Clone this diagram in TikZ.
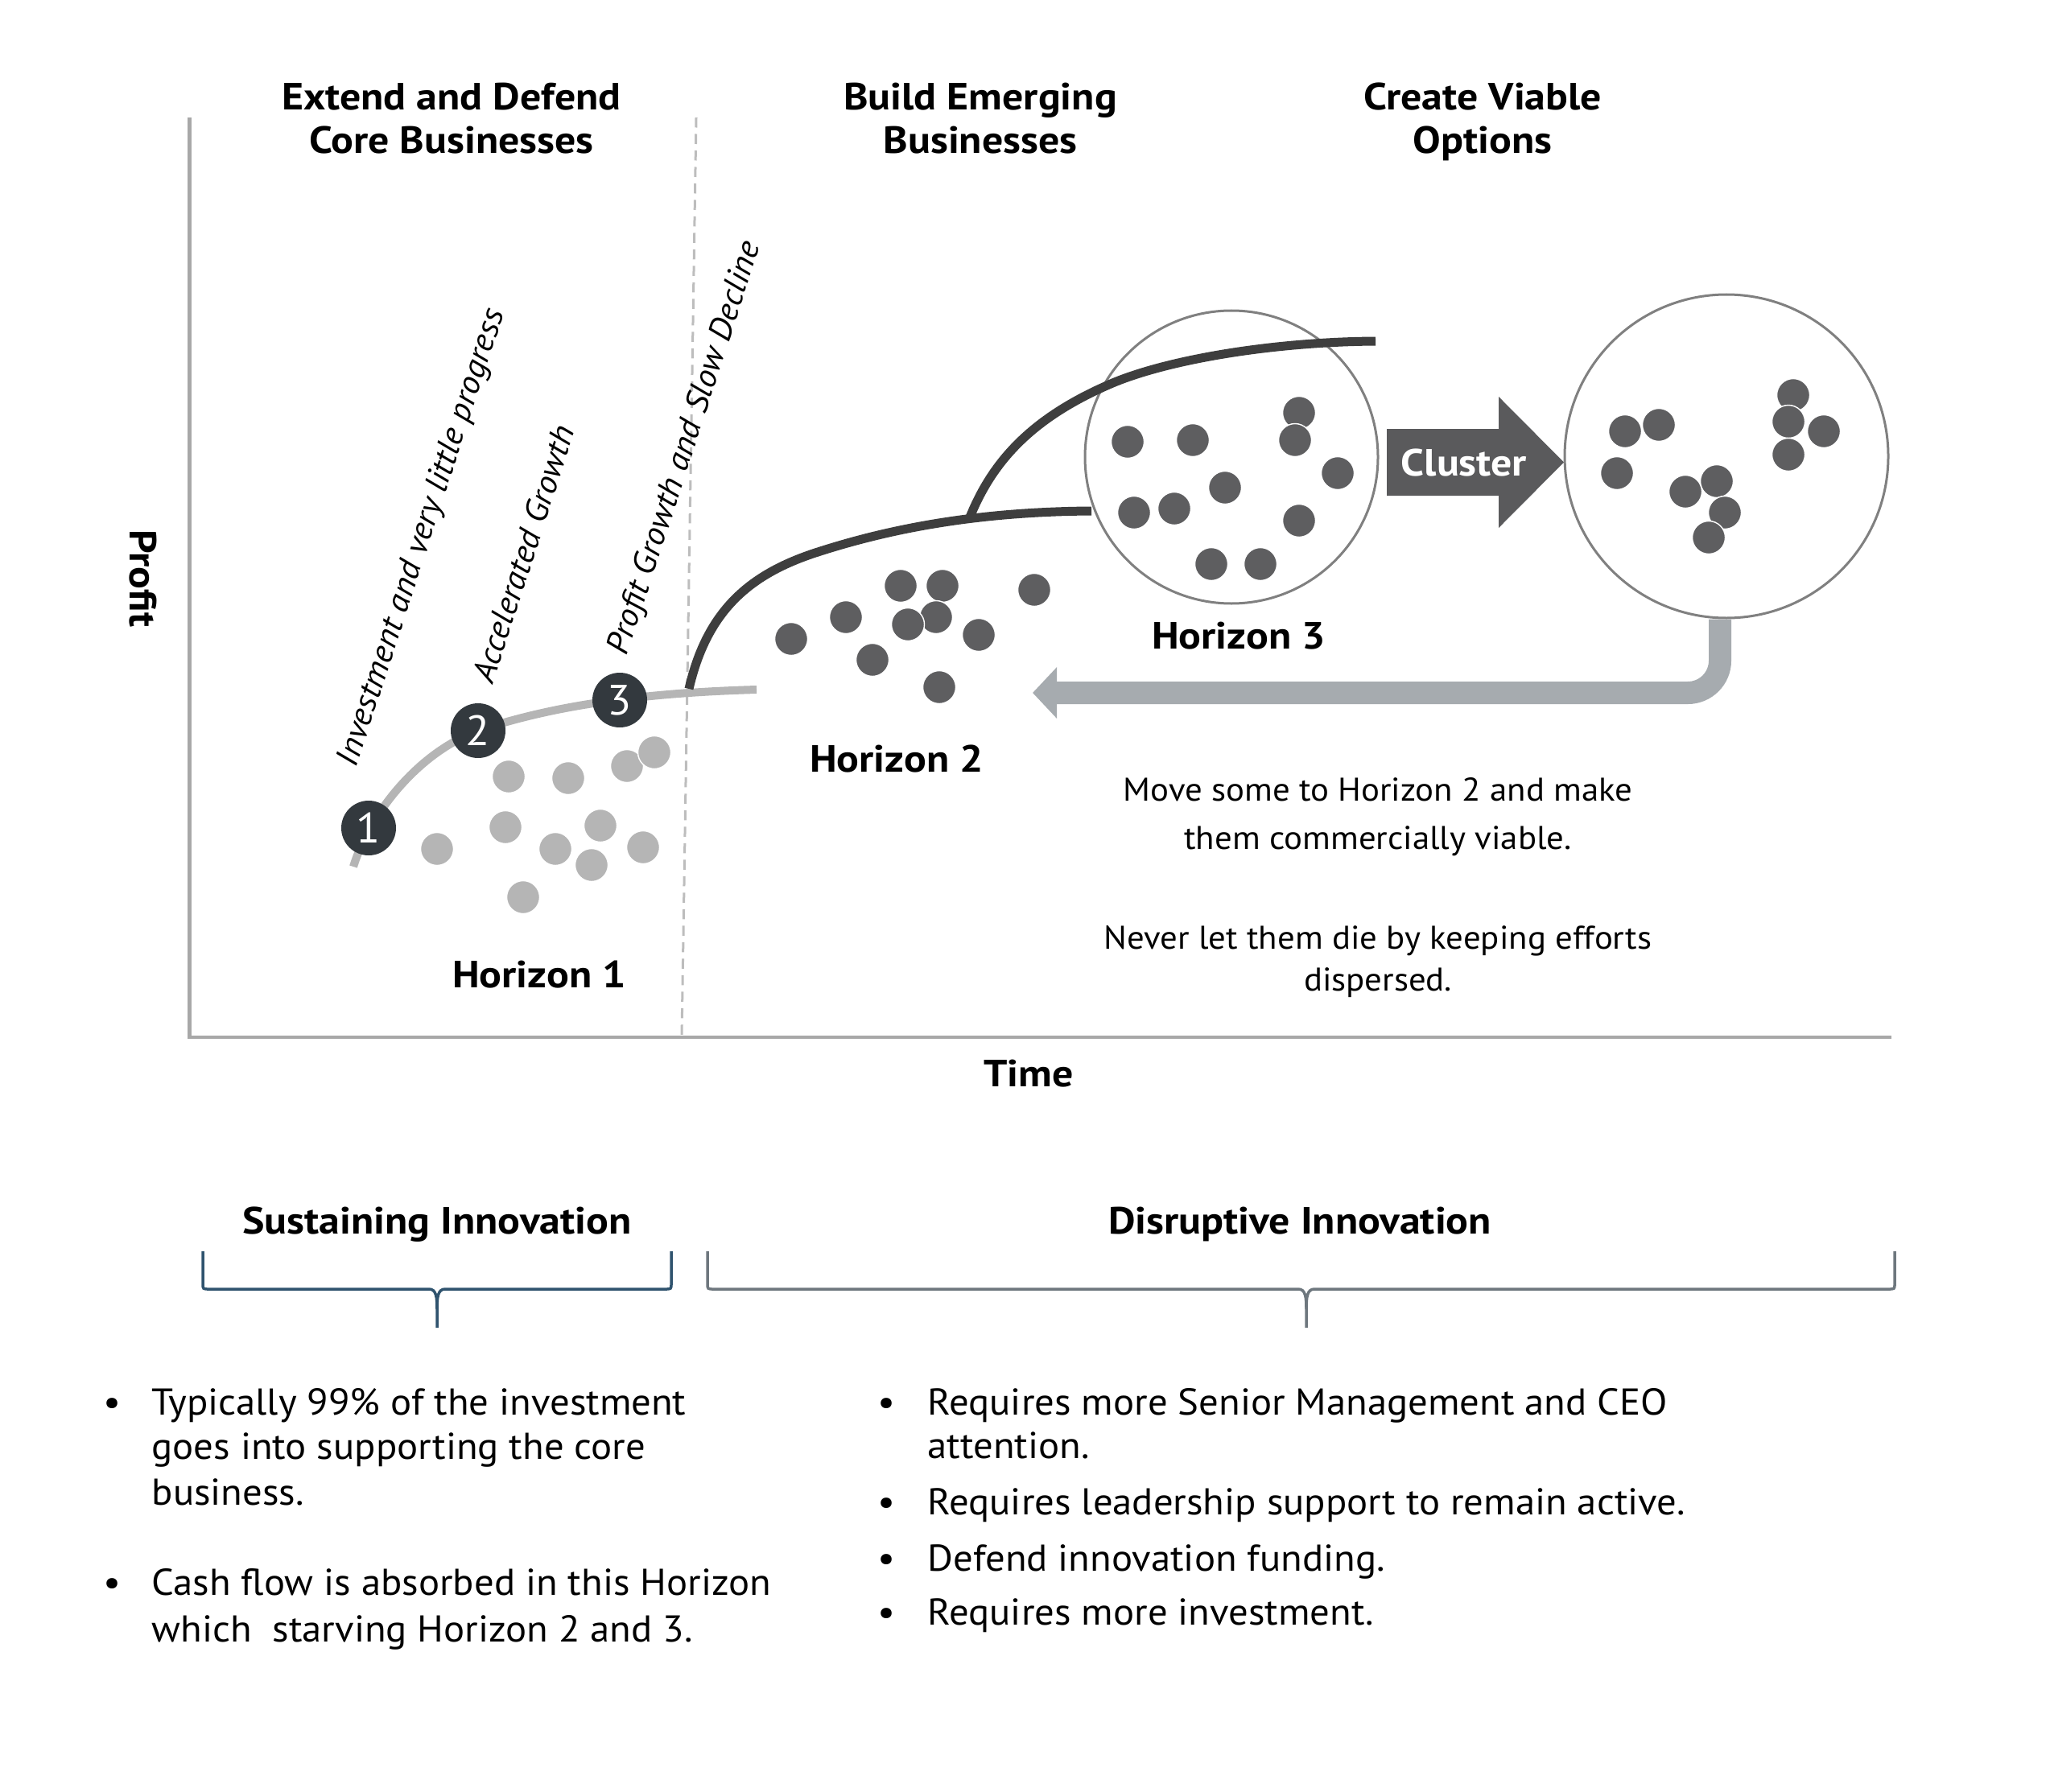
\documentclass[tikz,border=0pt]{standalone}
\usepackage{fontspec}
\setmainfont{PT Sans}[FakeStretch=1.05, BoldFeatures={FakeStretch=1.1}]
\usetikzlibrary{arrows.meta}
\definecolor{axisgray}{HTML}{A8A8A8}
\definecolor{dashgray}{HTML}{BDBDBD}
\definecolor{lightdot}{HTML}{B5B5B5}
\definecolor{darkdot}{HTML}{5E5E60}
\definecolor{darkline}{HTML}{3E3E3E}
\definecolor{numfill}{HTML}{33393E}
\definecolor{ringgray}{HTML}{808080}
\definecolor{arrowgray}{HTML}{5A5A5C}
\definecolor{backgray}{HTML}{A6ABAF}
\definecolor{bracedark}{HTML}{2F536E}
\definecolor{bracegray}{HTML}{6E777E}
\begin{document}
\begin{tikzpicture}[
    head/.style={font=\fontsize{13.4}{16}\selectfont\bfseries, inner sep=0pt, anchor=base},
    body/.style={font=\fontsize{13.2}{16}\selectfont, inner sep=0pt, anchor=base west},
    note/.style={font=\fontsize{11.6}{14}\selectfont, inner sep=0pt, anchor=base},
    phase/.style={font=\fontsize{11.5}{13}\selectfont\itshape, inner sep=0pt, rotate=72},
    ldot/.style={circle, fill=lightdot, draw=white, line width=0.4pt, inner sep=0pt, minimum size=0.41cm},
    ddot/.style={circle, fill=darkdot, draw=white, line width=0.4pt, inner sep=0pt, minimum size=0.41cm},
    num/.style={circle, fill=numfill, text=white, inner sep=0pt, minimum size=0.68cm, font=\fontsize{15}{15}\selectfont},
    ring/.style={circle, draw=ringgray, line width=0.3mm, inner sep=0pt},
    lightcurve/.style={lightdot, line width=1mm},
    darkcurve/.style={darkline, line width=1.1mm},
    brace/.style={line width=0.35mm},
    ]
    \useasboundingbox (0,0) rectangle (25.47,-22.26);
    % axes and split
    \draw [axisgray, line width=0.45mm] (2.355,-1.46) -- (2.355,-12.89) -- (23.50,-12.89);
    \draw [dashgray, line width=0.3mm, dash pattern=on 1.25mm off 0.8mm] (8.65,-1.46) -- (8.47,-12.89);
    \node [head] (core1) at (5.61,-1.37) {Extend and Defend};
    \node [head] (core2) at (5.61,-1.91) {Core Businesses};
    \node [head] (emerg1) at (12.18,-1.37) {Build Emerging};
    \node [head] (emerg2) at (12.18,-1.91) {Businesses};
    \node [head] (viable1) at (18.42,-1.37) {Create Viable};
    \node [head] (viable2) at (18.42,-1.91) {Options};
    \node [head, anchor=center, rotate=-90] (profit) at (1.78,-7.19) {Profit};
    \node [head] (time) at (12.78,-13.50) {Time};
    % horizon 1
    \draw [lightcurve] (4.39,-10.77) .. controls (4.60,-10.10) and (5.20,-9.35) .. (5.94,-9.08) .. controls (6.60,-8.86) and (7.60,-8.62) .. (9.40,-8.57);
    \node [ldot] (a1) at (5.43,-10.55) {};
    \node [ldot] (a2) at (6.32,-9.65) {};
    \node [ldot] (a3) at (7.06,-9.67) {};
    \node [ldot] (a4) at (7.79,-9.52) {};
    \node [ldot] (a5) at (8.13,-9.35) {};
    \node [ldot] (a6) at (6.28,-10.28) {};
    \node [ldot] (a7) at (7.46,-10.26) {};
    \node [ldot] (a8) at (6.90,-10.55) {};
    \node [ldot] (a9) at (7.35,-10.75) {};
    \node [ldot] (a10) at (7.99,-10.53) {};
    \node [ldot] (a11) at (6.50,-11.15) {};
    \node [num] (n1) at (4.58,-10.29) {1};
    \node [num] (n2) at (5.94,-9.08) {2};
    \node [num] (n3) at (7.70,-8.70) {3};
    \node [phase] (invest) at (5.25,-6.68) {Investment and very little progress};
    \node [phase] (accel) at (6.50,-6.88) {Accelerated Growth};
    \node [phase] (decline) at (8.52,-5.57) {Profit Growth and Slow Decline};
    \node [head] (hone) at (6.70,-12.27) {Horizon 1};
    % horizon 2
    \node [ddot] (b1) at (9.83,-7.94) {};
    \node [ddot] (b2) at (10.51,-7.67) {};
    \node [ddot] (b3) at (10.84,-8.20) {};
    \node [ddot] (b4) at (11.19,-7.28) {};
    \node [ddot] (b5) at (11.71,-7.28) {};
    \node [ddot] (b6) at (11.63,-7.67) {};
    \node [ddot] (b7) at (11.28,-7.76) {};
    \node [ddot] (b8) at (12.16,-7.89) {};
    \node [ddot] (b9) at (11.67,-8.54) {};
    \node [ddot] (b10) at (12.85,-7.33) {};
    \node [head] (htwo) at (11.14,-9.59) {Horizon 2};
    % horizon 3
    \node [ring, minimum size=3.64cm] (hring) at (15.30,-5.68) {};
    \node [ddot] (c1) at (14.01,-5.49) {};
    \node [ddot] (c2) at (14.82,-5.47) {};
    \node [ddot] (c3) at (16.14,-5.13) {};
    \node [ddot] (c4) at (16.09,-5.47) {};
    \node [ddot] (c5) at (16.62,-5.88) {};
    \node [ddot] (c6) at (15.22,-6.06) {};
    \node [ddot] (c7) at (14.09,-6.37) {};
    \node [ddot] (c8) at (14.59,-6.32) {};
    \node [ddot] (c9) at (16.14,-6.47) {};
    \node [ddot] (c10) at (15.05,-7.01) {};
    \node [ddot] (c11) at (15.66,-7.01) {};
    \draw [darkcurve] (8.56,-8.56) .. controls (8.78,-7.60) and (9.30,-7.15) .. (10.10,-6.88) .. controls (11.10,-6.55) and (12.20,-6.36) .. (13.56,-6.35) coordinate[pos=0.6] (fork);
    \draw [darkcurve] (fork) .. controls (12.32,-5.75) and (12.80,-5.20) .. (13.80,-4.77) .. controls (14.50,-4.47) and (15.80,-4.25) .. (17.09,-4.24);
    \node [head] (hthree) at (15.39,-8.06) {Horizon 3};
    % cluster
    \fill [arrowgray] (17.23,-5.33) -- (18.62,-5.33) -- (18.62,-4.93) -- (19.43,-5.745) -- (18.62,-6.56) -- (18.62,-6.16) -- (17.23,-6.16) -- cycle;
    \node [head, anchor=center, text=white] (clus) at (18.19,-5.75) {Cluster};
    \node [ring, minimum size=4.02cm] (opts) at (21.45,-5.67) {};
    \node [ddot] (d1) at (20.19,-5.36) {};
    \node [ddot] (d2) at (20.61,-5.28) {};
    \node [ddot] (d3) at (20.09,-5.88) {};
    \node [ddot] (d4) at (22.28,-4.91) {};
    \node [ddot] (d5) at (22.22,-5.24) {};
    \node [ddot] (d6) at (22.66,-5.36) {};
    \node [ddot] (d7) at (22.22,-5.65) {};
    \node [ddot] (d8) at (20.94,-6.11) {};
    \node [ddot] (d9) at (21.33,-5.98) {};
    \node [ddot] (d10) at (21.43,-6.37) {};
    \node [ddot] (d11) at (21.23,-6.68) {};
    \coordinate (back) at (12.83,-8.61);
    \draw [backgray, line width=2.8mm, rounded corners=4mm, -{Triangle[length=3mm, width=6.2mm]}] ([xshift=-0.8mm]opts.south) -- (21.37,-8.61) -- (back);
    \node [note] (move1) at (17.12,-9.95) {Move some to Horizon 2 and make};
    \node [note] (move2) at (17.12,-10.555) {them commercially viable.};
    \node [note] (never1) at (17.12,-11.79) {Never let them die by keeping efforts};
    \node [note] (never2) at (17.12,-12.31) {dispersed.};
    % innovation types
    \node [head] (sust) at (5.43,-15.33) {Sustaining Innovation};
    \node [head] (disr) at (16.15,-15.33) {Disruptive Innovation};
    \draw [brace, bracedark] (2.52,-15.55) -- (2.52,-15.95) .. controls (2.52,-16.02) .. (2.60,-16.02) -- (5.33,-16.02) .. controls (5.42,-16.02) and (5.43,-16.12) .. (5.43,-16.27) -- (5.43,-16.50);
    \draw [brace, bracedark] (8.34,-15.55) -- (8.34,-15.95) .. controls (8.34,-16.02) .. (8.26,-16.02) -- (5.53,-16.02) .. controls (5.44,-16.02) and (5.43,-16.12) .. (5.43,-16.27);
    \draw [brace, bracegray] (8.79,-15.55) -- (8.79,-15.95) .. controls (8.79,-16.02) .. (8.87,-16.02) -- (16.13,-16.02) .. controls (16.22,-16.02) and (16.23,-16.12) .. (16.23,-16.27) -- (16.23,-16.50);
    \draw [brace, bracegray] (23.54,-15.55) -- (23.54,-15.95) .. controls (23.54,-16.02) .. (23.46,-16.02) -- (16.33,-16.02) .. controls (16.24,-16.02) and (16.23,-16.12) .. (16.23,-16.27);
    \node [body, anchor=base] (s1) at (1.40,-17.58) {•};
    \node [body] (t1a) at (1.88,-17.58) {Typically 99\% of the investment};
    \node [body] (t1b) at (1.88,-18.13) {goes into supporting the core};
    \node [body] (t1c) at (1.88,-18.70) {business.};
    \node [body, anchor=base] (s2) at (1.40,-19.82) {•};
    \node [body] (t2a) at (1.88,-19.82) {Cash flow is absorbed in this Horizon};
    \node [body] (t2b) at (1.88,-20.40) {which~ starving Horizon 2 and 3.};
    \node [body, anchor=base] (r1) at (11.01,-17.58) {•};
    \node [body] (u1a) at (11.52,-17.58) {Requires more Senior Management and CEO};
    \node [body] (u1b) at (11.52,-18.12) {attention.};
    \node [body, anchor=base] (r2) at (11.01,-18.82) {•};
    \node [body] (u2) at (11.52,-18.82) {Requires leadership support to remain active.};
    \node [body, anchor=base] (r3) at (11.01,-19.52) {•};
    \node [body] (u3) at (11.52,-19.52) {Defend innovation funding.};
    \node [body, anchor=base] (r4) at (11.01,-20.19) {•};
    \node [body] (u4) at (11.52,-20.19) {Requires more investment.};
\end{tikzpicture}
\end{document}
